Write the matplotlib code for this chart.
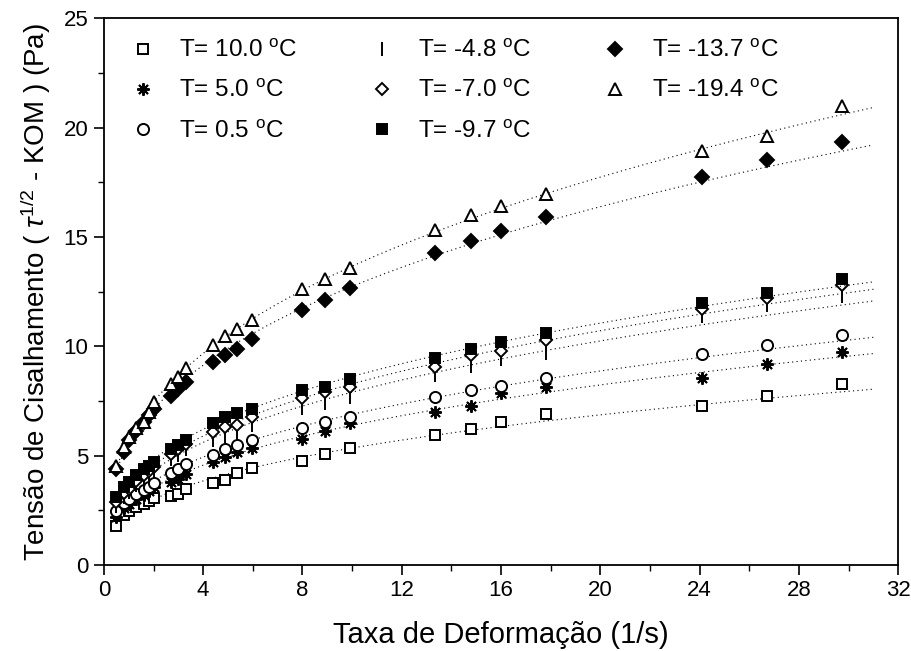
import numpy as np
import matplotlib.pyplot as plt

plt.rcParams['font.family'] = ['Liberation Sans', 'DejaVu Sans']
plt.rcParams['mathtext.fontset'] = 'custom'
plt.rcParams['mathtext.rm'] = 'Liberation Sans'
plt.rcParams['mathtext.it'] = 'Liberation Sans:italic'

# -----------------------------
# Dados: taxa de deformação (1/s) e tensão para cada temperatura
# -----------------------------
taxa = [0.5, 0.8, 1.0, 1.3, 1.6, 1.8, 2.0, 2.7, 3.0, 3.3, 4.4, 4.9, 5.35, 5.95,
        8.0, 8.9, 9.9, 13.35, 14.8, 16.0, 17.8, 24.1, 26.7, 29.75]

t_10_0 = [1.8, 2.3, 2.45, 2.65, 2.8, 2.95, 3.05, 3.15, 3.25, 3.5, 3.75, 3.9, 4.2, 4.45,
          4.75, 5.1, 5.35, 5.95, 6.2, 6.55, 6.9, 7.25, 7.75, 8.3]
t_5_0 = [2.2, 2.6, 2.8, 3.0, 3.2, 3.4, 3.55, 3.8, 3.95, 4.15, 4.7, 4.95, 5.15, 5.35,
         5.75, 6.15, 6.5, 7.0, 7.25, 7.85, 8.15, 8.55, 9.2, 9.75]
t_0_5 = [2.45, 2.85, 3.0, 3.25, 3.45, 3.55, 3.75, 4.2, 4.4, 4.6, 5.05, 5.3, 5.5, 5.7,
         6.25, 6.55, 6.75, 7.7, 8.0, 8.2, 8.55, 9.65, 10.05, 10.5]
t_m4_8 = [2.7, 3.1, 3.35, 3.65, 3.95, 4.15, 4.3, 4.85, 5.05, 5.3, 5.7, 5.9, 6.1, 6.4,
          7.2, 7.4, 7.7, 8.7, 9.1, 9.4, 9.7, 11.4, 11.9, 12.3]
t_m7_0 = [2.9, 3.3, 3.5, 3.85, 4.1, 4.3, 4.5, 5.1, 5.3, 5.55, 6.1, 6.3, 6.4, 6.75,
          7.65, 7.9, 8.15, 9.05, 9.6, 9.8, 10.3, 11.7, 12.2, 12.8]
t_m9_7 = [3.1, 3.55, 3.8, 4.1, 4.4, 4.55, 4.7, 5.3, 5.5, 5.7, 6.5, 6.75, 6.95, 7.15,
          8.0, 8.15, 8.5, 9.45, 9.9, 10.2, 10.6, 12.0, 12.45, 13.1]
t_m13_7 = [4.4, 5.15, 5.7, 6.15, 6.55, 6.85, 7.15, 7.75, 8.05, 8.35, 9.3, 9.6, 9.9, 10.35,
           11.65, 12.1, 12.65, 14.25, 14.8, 15.25, 15.9, 17.75, 18.5, 19.35]
t_m19_4 = [4.55, 5.4, 5.85, 6.25, 6.55, 7.0, 7.45, 8.3, 8.6, 9.0, 10.05, 10.45, 10.8, 11.2,
           12.6, 13.1, 13.6, 15.3, 16.0, 16.4, 16.95, 18.95, 19.6, 21.0]

rotulos = ['10.0', '5.0', '0.5', '-4.8', '-7.0', '-9.7', '-13.7', '-19.4']
series = [t_10_0, t_5_0, t_0_5, t_m4_8, t_m7_0, t_m9_7, t_m13_7, t_m19_4]

# marcador, preenchido?, tamanho
estilos = [
    ('s', False, 7),
    ((8, 2, 0), True, 9),
    ('o', False, 8),
    ('|', True, 10),
    ('D', False, 6),
    ('s', True, 7),
    ('D', True, 7),
    ('^', False, 8),
]

# -----------------------------
# Plot
# -----------------------------
fig = plt.figure(figsize=(9.11, 6.51), dpi=100)
ax = fig.add_axes([0.114, 0.132, 0.872, 0.840])

x = np.array(taxa)
x_fit = np.linspace(0.5, 31, 200)

for rot, y, (mk, cheio, ms) in zip(rotulos, series, estilos):
    y = np.array(y)
    # ajuste de lei de potência (reta em log-log)
    b, a = np.polyfit(np.log(x), np.log(y), 1)
    ax.plot(x_fit, np.exp(a) * x_fit ** b, color='black', lw=0.8,
            linestyle=(0, (1, 3)))
    ax.plot(x, y, linestyle='none', marker=mk, markersize=ms,
            markerfacecolor='black' if cheio else 'white',
            markeredgecolor='black', markeredgewidth=1.4,
            label='T= ' + rot + r' $^{\mathrm{o}}$C')

ax.set_xlim(0, 32)
ax.set_ylim(0, 25)
ax.set_xticks(np.arange(0, 33, 4))
ax.set_xticks(np.arange(0, 33, 2), minor=True)
ax.set_yticks(np.arange(0, 26, 5))
ax.set_yticks(np.arange(0, 26, 2.5), minor=True)
ax.tick_params(direction='out', length=7, width=1.2, labelsize=16, pad=4)
ax.tick_params(which='minor', direction='out', length=4, width=1)
for s in ax.spines.values():
    s.set_linewidth(1.3)

ax.set_xlabel('Taxa de Deformação (1/s)', fontsize=21, labelpad=14)
ax.set_ylabel(r'Tensão de Cisalhamento ( $\tau^{1/2}$ - KOM ) (Pa)',
              fontsize=20, labelpad=8)

ax.legend(ncol=3, loc='upper left', frameon=False, fontsize=17.5,
          handlelength=1.0, handletextpad=1.0, columnspacing=2.95,
          labelspacing=0.74, borderpad=0, borderaxespad=0,
          bbox_to_anchor=(0.034, 0.96))

plt.savefig('out.png', dpi=100)
